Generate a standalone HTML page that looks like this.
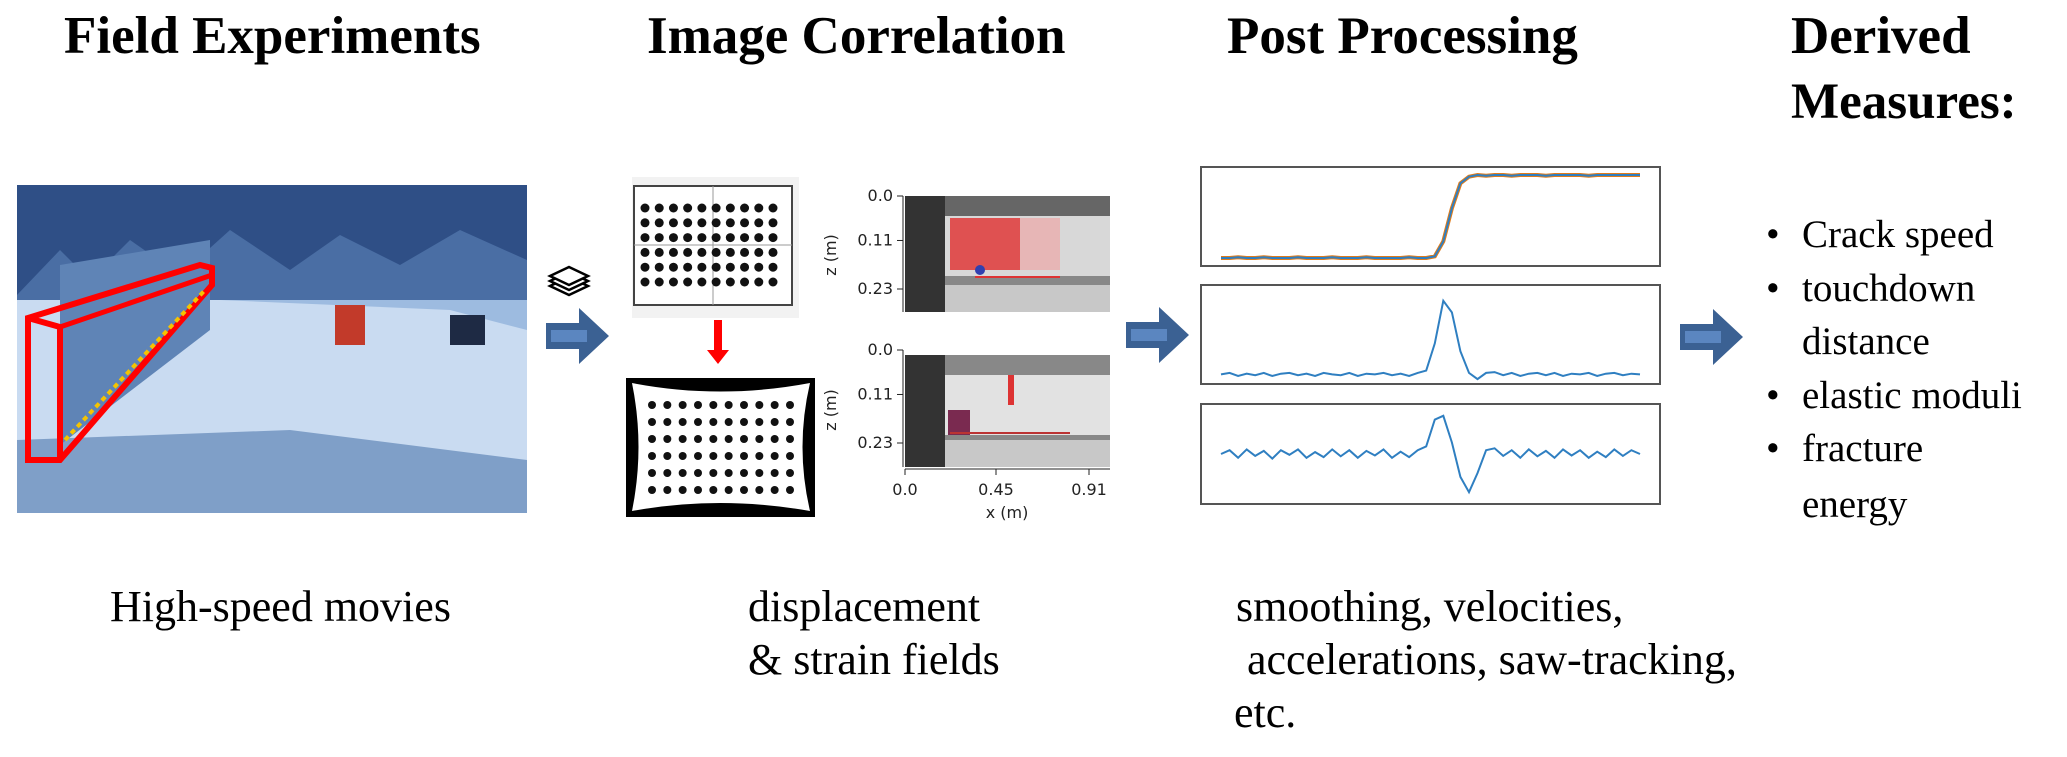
<!DOCTYPE html>
<html><head><meta charset="utf-8"><style>
html,body{margin:0;padding:0;background:#fff;}
#root{position:relative;width:2067px;height:757px;overflow:hidden;font-family:"Liberation Serif",serif;color:#000;}
.t{position:absolute;font-weight:bold;font-size:53px;white-space:nowrap;line-height:1;}
.c{position:absolute;font-size:44px;white-space:nowrap;line-height:1;}
.b{position:absolute;font-size:39px;white-space:nowrap;line-height:1;}
.tick{font-family:"DejaVu Sans","Liberation Sans",sans-serif;font-size:16px;fill:#222;}
</style></head><body>
<div id="root">
<div class="t" style="left:64px;top:10px">Field Experiments</div>
<div class="t" style="left:647px;top:10px">Image Correlation</div>
<div class="t" style="left:1227px;top:10px">Post Processing</div>
<div class="t" style="left:1791px;top:10px">Derived</div>
<div class="t" style="left:1791px;top:77px;font-size:51px">Measures:</div>

<svg width="2067" height="757" style="position:absolute;left:0;top:0">
 <defs>
  <g id="arr"><path d="M0,15 H33 V0 L63,28 L33,56 V41 H0 Z" fill="#3b6193"/><rect x="5" y="22" width="36" height="12" fill="#5b86c0"/></g>
 </defs>
 <g>
  <rect x="17" y="185" width="510" height="328" fill="#9dbbe0"/>
  <rect x="17" y="185" width="510" height="110" fill="#2f4f86"/>
  <path d="M17,295 L60,250 L90,280 L130,240 L180,275 L230,230 L290,270 L340,235 L400,265 L460,230 L527,260 V300 H17Z" fill="#4a6ea4"/>
  <path d="M17,300 L220,300 L450,310 L527,330 V513 H17Z" fill="#c9dbf1"/>
  <path d="M17,440 L290,430 L527,460 V513 H17Z" fill="#7f9fc8"/>
  <path d="M60,265 L210,240 L210,330 L60,445 Z" fill="#5f84b6"/>
  <path d="M28,318 L200,265 L212,268 L212,285 L60,460 L28,460 Z" fill="none" stroke="#f00" stroke-width="6"/>
  <path d="M28,318 L60,327 L60,460" fill="none" stroke="#f00" stroke-width="6"/>
  <path d="M60,327 L212,275" stroke="#f00" stroke-width="5"/>
  <path d="M65,440 L205,290" stroke="#f5c400" stroke-width="4" stroke-dasharray="5,4"/>
  <rect x="335" y="305" width="30" height="40" fill="#c23a2a"/>
  <rect x="450" y="315" width="35" height="30" fill="#1e2a44"/>
 </g>
 <g fill="#fff" stroke="#000" stroke-width="2.5">
  <path d="M569,295 L588,286 L569,277 L550,286Z"/><path d="M569,290 L588,281 L569,272 L550,281Z"/><path d="M569,285 L588,276 L569,267 L550,276Z"/>
 </g>
 <use href="#arr" x="546" y="308"/>
 <use href="#arr" x="1126" y="307"/>
 <use href="#arr" x="1680" y="309"/>
 <g>
  <rect x="632" y="177" width="167" height="141" fill="#f2f2f2"/>
  <rect x="634" y="186" width="158" height="119" fill="#fff" stroke="#444" stroke-width="2"/>
  <line x1="713" y1="186" x2="713" y2="305" stroke="#999"/><line x1="634" y1="245" x2="792" y2="245" stroke="#999"/>
  <g id="dots" fill="#111"></g>
 </g>
 <path d="M714,320 V350 H707 L718,364 L729,350 H722 V320Z" fill="#f00"/>
 <g>
  <rect x="626" y="378" width="189" height="139" fill="#000"/>
  <path d="M632,383 Q720,400 810,383 Q795,447 810,511 Q720,495 632,511 Q645,447 632,383Z" fill="#fff"/>
  <g id="dots2" fill="#111"></g>
 </g>
 <g>
  <rect x="905" y="196" width="205" height="116" fill="#888"/>
  <rect x="905" y="196" width="205" height="20" fill="#666"/>
  <rect x="905" y="196" width="40" height="116" fill="#333"/>
  <rect x="945" y="216" width="165" height="60" fill="#d8d8d8"/>
  <rect x="945" y="285" width="165" height="27" fill="#c8c8c8"/>
  <rect x="950" y="218" width="70" height="52" fill="#e03a3a" opacity="0.85"/>
  <rect x="1020" y="218" width="40" height="52" fill="#f2a0a0" opacity="0.6"/>
  <line x1="975" y1="277" x2="1060" y2="277" stroke="#d33" stroke-width="2"/>
  <circle cx="980" cy="270" r="5" fill="#3040b0"/>
 </g>
 <g>
  <rect x="905" y="355" width="205" height="112" fill="#888"/>
  <rect x="905" y="355" width="40" height="112" fill="#333"/>
  <rect x="945" y="375" width="165" height="60" fill="#e2e2e2"/>
  <rect x="945" y="440" width="165" height="27" fill="#c8c8c8"/>
  <rect x="1008" y="375" width="6" height="30" fill="#d33"/>
  <rect x="948" y="410" width="22" height="25" fill="#7a2a50"/>
  <line x1="950" y1="433" x2="1070" y2="433" stroke="#b33" stroke-width="2"/>
 </g>
 <g id="dicaxes" stroke="#222"></g>
 <text class="tick" transform="translate(836,255) rotate(-90)" text-anchor="middle">z (m)</text>
 <text class="tick" transform="translate(836,410) rotate(-90)" text-anchor="middle">z (m)</text>
 <text class="tick" x="1007" y="518" text-anchor="middle">x (m)</text>
 <g id="plots"></g>
</svg>

<div class="b" style="left:1766px;top:215px">•</div>
<div class="b" style="left:1802px;top:215px">Crack speed</div>
<div class="b" style="left:1766px;top:269px">•</div>
<div class="b" style="left:1802px;top:269px">touchdown</div>
<div class="b" style="left:1802px;top:322px">distance</div>
<div class="b" style="left:1766px;top:376px">•</div>
<div class="b" style="left:1802px;top:376px">elastic moduli</div>
<div class="b" style="left:1766px;top:429px">•</div>
<div class="b" style="left:1802px;top:429px">fracture</div>
<div class="b" style="left:1802px;top:485px">energy</div>

<div class="c" style="left:110px;top:585px">High-speed movies</div>
<div class="c" style="left:748px;top:585px">displacement</div>
<div class="c" style="left:748px;top:638px">&amp; strain fields</div>
<div class="c" style="left:1236px;top:585px">smoothing, velocities,</div>
<div class="c" style="left:1247px;top:638px">accelerations, saw-tracking,</div>
<div class="c" style="left:1234px;top:691px">etc.</div>
</div>
<script>
const NS='http://www.w3.org/2000/svg';
const zTicks=['0.0','0.11','0.23'];
const zTickVals=[0,0.11,0.23];
const xTicks=['0.0','0.45','0.91'];
const xTickVals=[0,0.45,0.91];
const dispVals=[0,0,0.01,0,0,0.01,0,0,0,0.01,0,0,0,0.01,0,0,0,0.01,0,0,0,0,0.01,0,0,0.02,0.2,0.6,0.9,0.98,1,0.99,1,1,0.99,1,1,1,0.99,1,1,1,1,0.99,1,1,1,1,1,1];
const velVals=[0,0.02,-0.02,0.01,-0.01,0.02,-0.02,0.01,0.02,-0.01,0.01,-0.02,0.02,0,-0.01,0.02,-0.02,0.01,0,0.02,-0.01,0.01,-0.02,0.02,0.05,0.4,0.95,0.8,0.3,0.02,-0.06,0.02,0.03,-0.01,0.02,-0.02,0.01,0.02,-0.01,0.02,-0.02,0.01,0,0.02,-0.02,0.01,0.02,-0.01,0.01,0];
const accVals=[0,0.1,-0.1,0.12,-0.05,0.08,-0.12,0.1,-0.02,0.12,-0.1,0.05,-0.08,0.12,-0.06,0.1,-0.1,0.08,-0.04,0.12,-0.1,0.06,-0.08,0.1,0.2,0.9,1,0.3,-0.6,-1,-0.5,0.1,0.15,-0.05,0.1,-0.1,0.12,-0.06,0.08,-0.1,0.12,-0.04,0.1,-0.1,0.06,-0.08,0.12,-0.05,0.1,0];
function el(t,a,p){const e=document.createElementNS(NS,t);for(const k in a)e.setAttribute(k,a[k]);(p||document.querySelector('svg')).appendChild(e);return e;}
function dots(g,x0,x1,y0,y1,r){for(let i=0;i<10;i++)for(let j=0;j<6;j++){const c=el('circle',{cx:x0+(x1-x0)*i/9,cy:y0+(y1-y0)*j/5,r:r},g);}}
dots(document.getElementById('dots'),645,773,208,282,4.5);
dots(document.getElementById('dots2'),652,790,405,490,4);
const ax=document.getElementById('dicaxes');
function zy(v,top,bot){return top+(bot-top)*v/0.23;}
[[196,289],[350,443]].forEach((p,k)=>{
 el('line',{x1:903,y1:p[0],x2:903,y2:k?467:312},ax);
 zTickVals.forEach((v,i)=>{const y=zy(v,p[0],p[1]);el('line',{x1:897,y1:y,x2:903,y2:y},ax);
  const t=el('text',{x:893,y:y+5,'text-anchor':'end',class:'tick'});t.textContent=zTicks[i];
  
  });
});
function xx(v){return 905+(1089-905)*v/0.91;}
el('line',{x1:905,y1:469,x2:1110,y2:469},ax);
xTickVals.forEach((v,i)=>{const x=xx(v);el('line',{x1:x,y1:469,x2:x,y2:475},ax);
 const t=el('text',{x:x,y:495,'text-anchor':'middle',class:'tick'});t.textContent=xTicks[i];
 
 });
const pg=document.getElementById('plots');
function plot(top,bot,vals,lo,hi,color,name,extra){
 const r=el('rect',{x:1201,y:top,width:459,height:bot-top,fill:'#fff',stroke:'#555','stroke-width':2},pg);
 
 
 const sx=i=>1221+(1640-1221)*i/(vals.length-1);
 const sy=v=>bot-8-(bot-top-16)*(v-lo)/(hi-lo);
 const d=vals.map((v,i)=>(i?'L':'M')+sx(i).toFixed(1)+','+sy(v).toFixed(1)).join('');
 if(extra){const p0=el('path',{d:d,fill:'none',stroke:'#e07b1a','stroke-width':4},pg);
  
  }
 const p=el('path',{d:d,fill:'none',stroke:color,'stroke-width':2},pg);
 
 
}
plot(167,266,dispVals,0,1,'#2f7fc1','displacement-plot',true);
plot(285,384,velVals,-0.02,1.05,'#2f7fc1','velocity-plot',false);
plot(404,504,accVals,-1.1,1.1,'#2f7fc1','acceleration-plot',false);
</script>
</body></html>
